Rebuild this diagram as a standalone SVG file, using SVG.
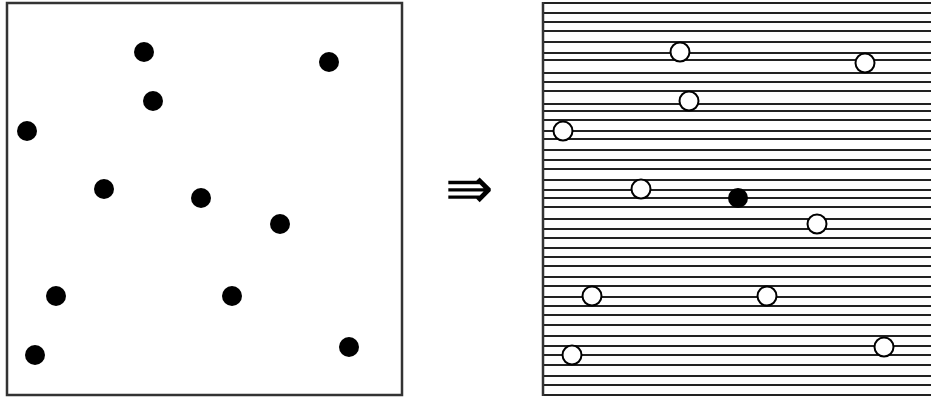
<svg xmlns="http://www.w3.org/2000/svg" width="931" height="398" viewBox="0 0 931 398">
<style>
.box{fill:none;stroke:#333;stroke-width:2.5}
.hl{stroke:#222;stroke-width:2}
.dot{fill:#000}
.ring{fill:#fff;stroke:#000;stroke-width:2}
.arr{font-family:"DejaVu Sans",sans-serif;font-size:58px;font-weight:200;fill:#000}
</style>
<rect width="931" height="398" fill="#fff"/>
<g id="left-panel">
<rect class="box" x="7" y="3" width="395" height="392"/>
<circle class="dot" cx="144" cy="52" r="10"/>
<circle class="dot" cx="329" cy="62" r="10"/>
<circle class="dot" cx="153" cy="101" r="10"/>
<circle class="dot" cx="27" cy="131" r="10"/>
<circle class="dot" cx="104" cy="189" r="10"/>
<circle class="dot" cx="201" cy="198" r="10"/>
<circle class="dot" cx="280" cy="224" r="10"/>
<circle class="dot" cx="56" cy="296" r="10"/>
<circle class="dot" cx="232" cy="296" r="10"/>
<circle class="dot" cx="35" cy="355" r="10"/>
<circle class="dot" cx="349" cy="347" r="10"/>
</g>
<g id="arrow">
<text class="arr" x="445" y="208">⇛</text>
</g>
<g id="right-panel">
<g id="lines">
<path class="hl" d="M543 3H931M543 13H931M543 22H931M543 31H931M543 42H931M543 53H931M543 60H931M543 73H931M543 82H931M543 91H931M543 104H931M543 111H931M543 120H931M543 131H931M543 139H931M543 150H931M543 160H931M543 169H931M543 180H931M543 190H931M543 198H931M543 207H931M543 219H931M543 229H931M543 238H931M543 248H931M543 257H931M543 266H931M543 277H931M543 286H931M543 297H931M543 306H931M543 315H931M543 325H931M543 336H931M543 346H931M543 355H931M543 365H931M543 376H931M543 385H931M543 395H931"/>
<path class="box" d="M543 2V396"/>
</g>
<circle class="ring" cx="680" cy="52" r="9.5"/>
<circle class="ring" cx="865" cy="63" r="9.5"/>
<circle class="ring" cx="689" cy="101" r="9.5"/>
<circle class="ring" cx="563" cy="131" r="9.5"/>
<circle class="ring" cx="641" cy="189" r="9.5"/>
<circle class="dot" cx="738" cy="198" r="10"/>
<circle class="ring" cx="817" cy="224" r="9.5"/>
<circle class="ring" cx="592" cy="296" r="9.5"/>
<circle class="ring" cx="767" cy="296" r="9.5"/>
<circle class="ring" cx="572" cy="355" r="9.5"/>
<circle class="ring" cx="884" cy="347" r="9.5"/>
</g>
</svg>
